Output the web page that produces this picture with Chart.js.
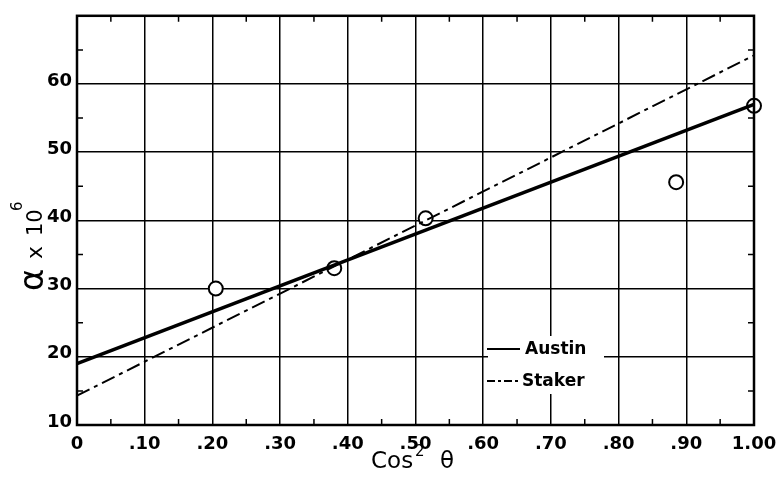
<!DOCTYPE html>
<html>
<head>
<meta charset="utf-8">
<script src="https://cdn.jsdelivr.net/npm/chart.js@4/dist/chart.umd.min.js"></script>
<style>
  body { margin: 0; background: #fff; }
</style>
</head>
<body>
<canvas id="grafico" width="777" height="479"></canvas>
<script>
// Cos^2 theta ticks and labels
const xTicks = [0, 0.1, 0.2, 0.3, 0.4, 0.5, 0.6, 0.7, 0.8, 0.9, 1.0];
const xTickLabels = ["0", ".10", ".20", ".30", ".40", ".50", ".60", ".70", ".80", ".90", "1.00"];
const yTickLabels = ["10", "20", "30", "40", "50", "60", ""];

// measured points
const pontosX = [0.205, 0.38, 0.515, 0.885, 1.0];
const pontosY = [30.0, 33.0, 40.3, 45.6, 56.8];

// fitted lines (ends at cos^2 = 0 and 1)
const austinX = [0, 1.0];
const austinY = [19.0, 57.0];
const stakerX = [0, 1.0];
const stakerY = [14.3, 64.2];

const fonte = "'DejaVu Sans', sans-serif";

const decoracao = {
    id: "decoracao",

    beforeDatasetsDraw(chart) {
        const ctx = chart.ctx;
        // blank out grid behind the legend
        ctx.save();
        ctx.fillStyle = "#fff";
        ctx.fillRect(488, 336, 116, 58);
        ctx.restore();
    },

    afterDraw(chart) {
        const ctx = chart.ctx;
        const a = chart.chartArea;
        const x = chart.scales.x;
        const y = chart.scales.y;

        ctx.save();
        ctx.strokeStyle = "#000";
        ctx.fillStyle = "#000";

        // frame
        ctx.lineWidth = 2.5;
        ctx.strokeRect(a.left, a.top, a.right - a.left, a.bottom - a.top);

        // minor ticks
        ctx.lineWidth = 1.5;
        ctx.beginPath();
        for (let v = 15; v < 70; v += 10) {
            const py = y.getPixelForValue(v);
            ctx.moveTo(a.left, py); ctx.lineTo(a.left + 6, py);
            ctx.moveTo(a.right, py); ctx.lineTo(a.right - 6, py);
        }
        for (let i = 0; i < 10; i++) {
            const px = x.getPixelForValue(0.05 + i * 0.1);
            ctx.moveTo(px, a.top); ctx.lineTo(px, a.top + 6);
            ctx.moveTo(px, a.bottom); ctx.lineTo(px, a.bottom - 6);
        }
        ctx.stroke();

        // legend
        ctx.lineWidth = 2;
        ctx.beginPath();
        ctx.moveTo(487, 349); ctx.lineTo(520, 349);
        ctx.stroke();
        ctx.setLineDash([8, 3, 3, 3]);
        ctx.beginPath();
        ctx.moveTo(487, 381); ctx.lineTo(519, 381);
        ctx.stroke();
        ctx.setLineDash([]);
        ctx.font = "bold 17px " + fonte;
        ctx.textBaseline = "middle";
        ctx.textAlign = "left";
        ctx.fillText("Austin", 525, 350);
        ctx.fillText("Staker", 522, 382);

        // x title
        ctx.textBaseline = "alphabetic";
        ctx.font = "23px " + fonte;
        ctx.fillText("Cos", 371, 468);
        ctx.font = "15px " + fonte;
        ctx.fillText("2", 415, 456);
        ctx.font = "23px " + fonte;
        ctx.fillText("\u03B8", 440, 468);

        // y title, rotated
        ctx.translate(43, 291);
        ctx.rotate(-Math.PI / 2);
        ctx.font = "34px " + fonte;
        ctx.fillText("\u03B1", 0, 0);
        ctx.font = "22px " + fonte;
        ctx.fillText("x", 32, -1);
        ctx.font = "21px " + fonte;
        ctx.fillText("10", 55, -1);
        ctx.font = "15px " + fonte;
        ctx.fillText("6", 80, -21);

        ctx.restore();
    }
};

const ctx = document.getElementById("grafico").getContext("2d");

new Chart(ctx, {
    type: "scatter",

    data: {
        datasets: [
            {
                label: "Austin",
                data: austinX.map((v, i) => ({ x: v, y: austinY[i] })),
                showLine: true,
                borderColor: "#000",
                borderWidth: 3.5,
                pointRadius: 0
            },
            {
                label: "Staker",
                data: stakerX.map((v, i) => ({ x: v, y: stakerY[i] })),
                showLine: true,
                borderColor: "#000",
                borderWidth: 2,
                borderDash: [14, 5, 4, 5],
                pointRadius: 0
            },
            {
                label: "Medidos",
                data: pontosX.map((v, i) => ({ x: v, y: pontosY[i] })),
                showLine: false,
                pointRadius: 7,
                pointBorderWidth: 2,
                pointBorderColor: "#000",
                pointBackgroundColor: "#fff",
                clip: false
            }
        ]
    },

    options: {
        responsive: false,
        animation: false,
        devicePixelRatio: 1,

        layout: {
            padding: { top: 15, right: 23, left: 0, bottom: 0 }
        },

        plugins: {
            legend: { display: false },
            tooltip: { enabled: false }
        },

        scales: {
            x: {
                type: "linear",
                min: 0,
                max: 1,
                afterFit: s => {
                    s.height = 54;
                    s.paddingLeft = 0;
                    s.paddingRight = 0;
                },
                afterBuildTicks: s => { s.ticks = xTicks.map(v => ({ value: v })); },
                ticks: {
                    color: "#000",
                    padding: 9,
                    maxRotation: 0,
                    font: { family: fonte, size: 18, weight: "bold" },
                    callback: (value, i) => xTickLabels[i]
                },
                grid: {
                    color: "#000",
                    lineWidth: 1.5,
                    drawTicks: false
                },
                border: { display: false }
            },

            y: {
                min: 10,
                max: 70,
                afterFit: s => { s.width = 77; },
                ticks: {
                    stepSize: 10,
                    color: "#000",
                    padding: 5,
                    labelOffset: -3,
                    font: { family: fonte, size: 18, weight: "bold" },
                    callback: (value, i) => yTickLabels[i]
                },
                grid: {
                    color: "#000",
                    lineWidth: 1.5,
                    drawTicks: false
                },
                border: { display: false }
            }
        }
    },

    plugins: [decoracao]
});
</script>
</body>
</html>
